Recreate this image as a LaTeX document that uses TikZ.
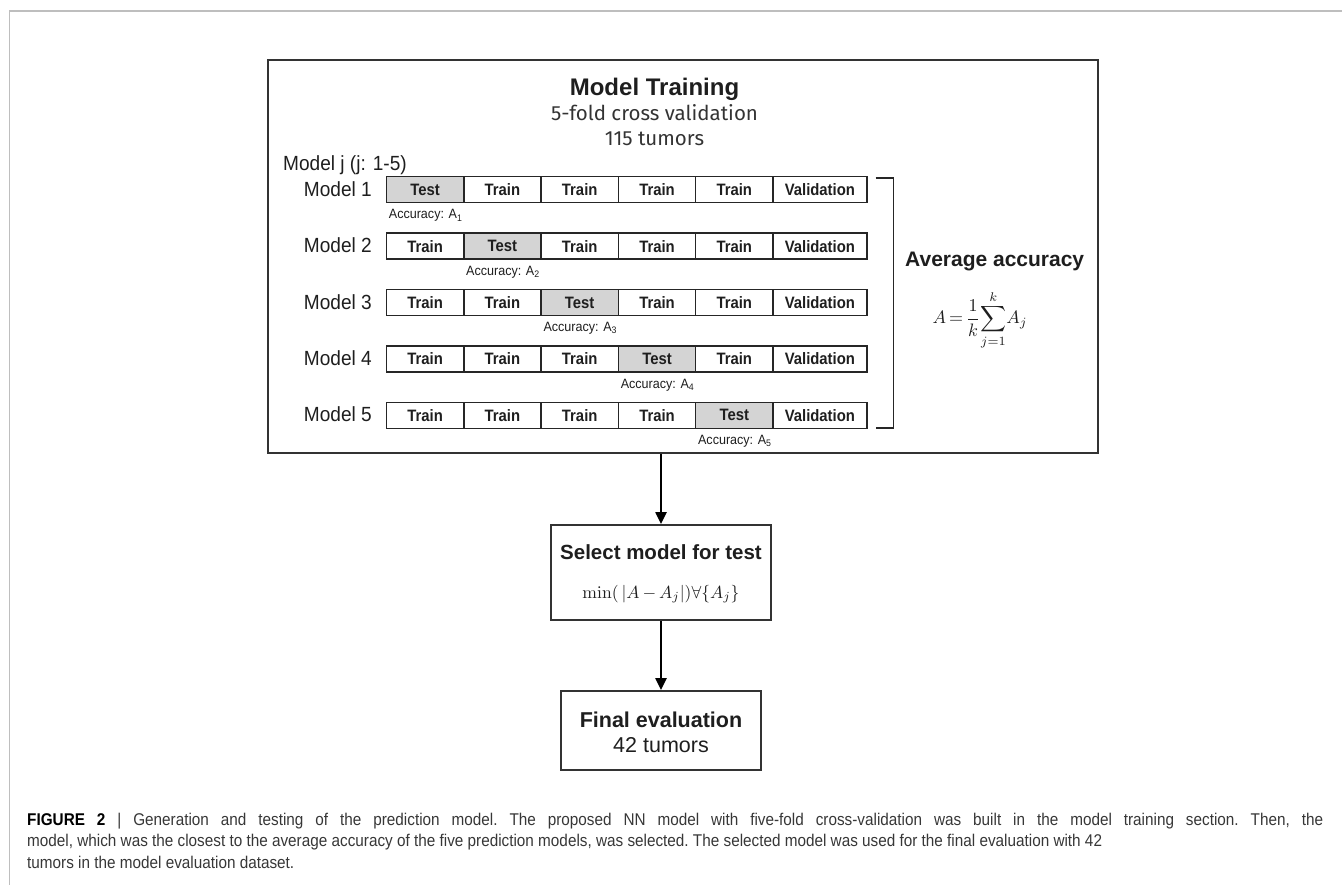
\documentclass[tikz,border=0pt]{standalone}
\usepackage{amsmath}
\usepackage[no-math]{fontspec}
\setmainfont{Liberation Sans}
\newfontfamily\narrowfam[FakeStretch=0.93]{Liberation Sans}
\newfontfamily\cellfam[FakeStretch=0.9]{Liberation Sans}
\newfontfamily\capfam[FakeStretch=0.9]{Liberation Sans}
\newfontfamily\firafam{Fira Sans}
\usetikzlibrary{arrows.meta,calc}
\definecolor{testgray}{RGB}{212,212,212}
\definecolor{framegray}{RGB}{190,190,190}
\definecolor{ink}{RGB}{30,30,30}
\definecolor{capink}{RGB}{55,55,55}
\newcommand\cellfnt{\cellfam\bfseries\fontsize{16.5}{18}\selectfont}
\newcommand\accfnt{\narrowfam\fontsize{13.5}{15}\selectfont}
\newcommand\rowfnt{\narrowfam\fontsize{20.5}{23}\selectfont}
\newcommand\subtfnt{\firafam\fontsize{20.5}{23}\selectfont}
\newcommand\capfnt{\capfam\fontsize{17}{20}\selectfont\frenchspacing}
\begin{document}
\begin{tikzpicture}[x=1pt,y=-1pt,
  frameline/.style={draw=framegray, line width=1.6pt},
  outerbox/.style={draw=black!80, line width=1.8pt, inner sep=0pt},
  cellbox/.style={draw=black!85, line width=1.5pt, inner sep=0pt, minimum height=26pt, anchor=north west, font=\cellfnt, text=ink},
  testcell/.style={cellbox, fill=testgray},
  acclab/.style={anchor=base west, inner sep=0pt, font=\accfnt, text=ink},
  rowlab/.style={anchor=east, inner sep=0pt, font=\rowfnt, text=ink},
  boldlab/.style={anchor=base, inner sep=0pt, text=ink},
  arr/.style={line width=2.5pt, -{Triangle[length=12pt,width=11pt]}},
  bracketline/.style={line width=1.8pt, draw=black!85},
  caption/.style={anchor=base west, inner sep=0pt, font=\capfnt, text=capink}
]
\useasboundingbox (0,0) rectangle (1342,885);
% page frame
\coordinate (fbl) at (9.5,885);
\coordinate (ftl) at (9.5,11);
\coordinate (ftr) at (1342,11);
\draw[frameline] (fbl) -- (ftl) -- (ftr);

% main box
\node[outerbox, minimum width=830pt, minimum height=393pt, anchor=north west] (mainbox) at (267,59) {};
\node[boldlab, font=\bfseries\fontsize{24}{28}\selectfont] (title) at (654.5,95.3) {Model Training};
\node[boldlab, font=\subtfnt, text=black!80] (sub1) at (654.5,120.5) {5-fold cross validation};
\node[boldlab, font=\subtfnt, text=black!80] (sub2) at (654.5,145.5) {115 tumors};
\node[anchor=base west, inner sep=0pt, font=\rowfnt, text=ink] (modelj) at (283,171) {Model j (j: 1-5)};

\foreach \r in {1,...,5} {
  \pgfmathsetmacro\ytop{176+56.4*(\r-1)}
  \node[rowlab] (lab\r) at (372,\ytop+13) {Model \r};
  \foreach \c in {1,...,5} {
    \pgfmathsetmacro\xl{385.7+77.3*(\c-1)}
    \ifnum\c=\r
      \node[testcell, minimum width=77.3pt] (c\r-\c) at (\xl,\ytop) {Test};
    \else
      \node[cellbox, minimum width=77.3pt] (c\r-\c) at (\xl,\ytop) {Train};
    \fi
  }
  \node[cellbox, minimum width=93.8pt] (c\r-6) at (772.2,\ytop) {Validation};
  \node[acclab] (acc\r) at ($(c\r-\r.south west)+(3,15.5)$) {Accuracy: A\textsubscript{\r}};
}

% bracket
\coordinate (b1) at ($(c1-6.north east)+(8,2)$);
\coordinate (b2) at ($(b1)+(18,0)$);
\coordinate (b4) at ($(c5-6.south east)+(8,-1)$);
\coordinate (b3) at ($(b4)+(18,0)$);
\draw[bracketline] (b1) -- (b2) -- (b3) -- (b4);

\node[anchor=base west, inner sep=0pt, font=\bfseries\fontsize{21}{24}\selectfont, text=ink] (avg) at (905,266.5) {Average accuracy};
\node[inner sep=0pt, text=ink] (avgf) at (980,320) {\resizebox{95pt}{!}{$\displaystyle A\,{=}\,\frac{1}{k}\!\sum_{j=1}^{k}\!A_j$}};

% select box
\node[outerbox, minimum width=220pt, minimum height=95pt, anchor=north] (sel) at (661,524) {};
\node[boldlab, font=\bfseries\fontsize{20.5}{24}\selectfont] (seltxt) at (661,559) {Select model for test};
\node[inner sep=0pt, text=ink] (self) at (661,594) {\resizebox{157pt}{!}{$\min(\,|A\,{-}\,A_j|)\forall\{A_j\}$}};

% final box
\node[outerbox, minimum width=200pt, minimum height=79pt, anchor=north] (fin) at (661,690) {};
\node[boldlab, font=\bfseries\fontsize{21.5}{24}\selectfont] (fintxt) at (661,727.7) {Final evaluation};
\node[boldlab, font=\fontsize{21.5}{24}\selectfont] (fintum) at (661,752.6) {42 tumors};

% arrows
\draw[arr] (sel.north |- mainbox.south) -- (sel.north);
\draw[arr] (sel.south) -- (fin.north);

% caption
\node[caption] (cap1) at (27,825) {\makebox[1296pt][s]{\textcolor{black}{\textbf{FIGURE 2}} | Generation and testing of the prediction model. The proposed NN model with five-fold cross-validation was built in the model training section. Then, the}};
\node[caption] (cap2) at (27,846.5) {model, which was the closest to the average accuracy of the five prediction models, was selected. The selected model was used for the final evaluation with 42};
\node[caption] (cap3) at (27,868) {tumors in the model evaluation dataset.};
\end{tikzpicture}
\end{document}
